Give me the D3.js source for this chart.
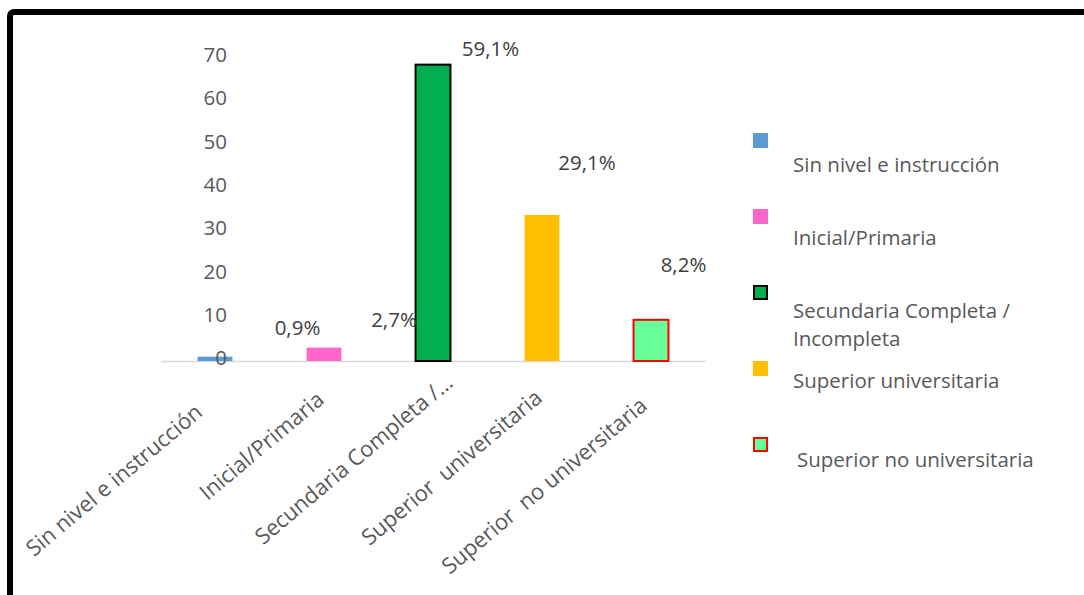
<!DOCTYPE html>
<html>
<head>
<meta charset="utf-8">
<script src="https://cdn.jsdelivr.net/npm/d3@7"></script>
<style>
  html, body { margin: 0; padding: 0; background: #fff; }
  svg { display: block; }
  text { font-family: "Open Sans", sans-serif; }
</style>
</head>
<body>
<svg id="chart" width="1084" height="595"></svg>
<script>
// ---- data ----
const categories = [
  "Sin nivel e instrucción",
  "Inicial/Primaria",
  "Secundaria Completa / Incompleta",
  "Superior universitaria",
  "Superior no universitaria"
];
// labels printed under the bars (long one is cut short)
const tickLabels = [
  "Sin nivel e instrucción",
  "Inicial/Primaria",
  "Secundaria Completa /…",
  "Superior  universitaria",
  "Superior  no universitaria"
];
// legend entries, one array per wrapped line
const legendLabels = [
  ["Sin nivel e instrucción"],
  ["Inicial/Primaria"],
  ["Secundaria Completa /", "Incompleta"],
  ["Superior universitaria"],
  [" Superior no universitaria"]
];
const values = [1.0, 3.1, 68.4, 33.7, 9.5];
const yTickValues = [0, 10, 20, 30, 40, 50, 60, 70];

// ---- styling ----
const fills   = ["#5B9BD5", "#FF66CC", "#00B050", "#FFC000", "#66FF99"];
const strokes = [null, null, "#000000", null, "#FF0000"];
const textGray = "#595959";
const labelGray = "#404040";

const svg = d3.select("#chart");

// outer frame
svg.append("rect")
  .attr("x", 10).attr("y", 12)
  .attr("width", 1100).attr("height", 620)
  .attr("rx", 4)
  .attr("fill", "none")
  .attr("stroke", "#000")
  .attr("stroke-width", 6);

// ---- scales ----
const x = d3.scaleBand()
  .domain(categories)
  .range([160.5, 705.5])
  .paddingInner(0.68)
  .paddingOuter(0.34);

const y = d3.scaleLinear()
  .domain([0, 70])
  .range([361, 57.7]);

// ---- category axis (baseline + rotated labels) ----
const xAxis = svg.append("g")
  .attr("transform", `translate(0,${y(0)})`)
  .call(d3.axisBottom(x).tickSize(0).tickSizeOuter(0));

xAxis.select(".domain")
  .attr("stroke", "#D9D9D9")
  .attr("stroke-width", 1.5);

// labels are tilted 40°; each end point is moved along the text direction
// (labelShift) and pushed away from the axis (labelDrop)
const angle = 40;
const rad = angle * Math.PI / 180;
const dir = [Math.cos(rad), -Math.sin(rad)];
const perp = [Math.sin(rad), Math.cos(rad)];
const labelShift = [-43, -25, 1, -24, -32];
const labelDrop = [34, 32.5, 32, 31, 34.5];

xAxis.selectAll(".tick text")
  .text((d, i) => tickLabels[i])
  .attr("xml:space", "preserve")
  .style("white-space", "pre")
  .attr("x", 0).attr("y", 0).attr("dy", 0)
  .attr("fill", textGray)
  .attr("font-size", "22px")
  .attr("font-family", "'Open Sans', sans-serif")
  .attr("text-anchor", "end")
  .attr("transform", (d, i) => {
    const a = labelShift[i], b = labelDrop[i];
    const px = a * dir[0] + b * perp[0];
    const py = a * dir[1] + b * perp[1];
    return `translate(${px},${py}) rotate(${-angle})`;
  });

// ---- bars ----
svg.append("g")
  .selectAll("rect")
  .data(categories)
  .join("rect")
  .attr("x", d => x(d))
  .attr("width", x.bandwidth())
  .attr("y", (d, i) => y(values[i]))
  .attr("height", (d, i) => y(0) - y(values[i]))
  .attr("fill", (d, i) => fills[i])
  .attr("stroke", (d, i) => strokes[i] || "none")
  .attr("stroke-width", 2);

// ---- value axis ----
const yAxis = svg.append("g")
  .attr("transform", "translate(227,0)")
  .call(d3.axisLeft(y).tickValues(yTickValues).tickSize(0).tickPadding(0));

yAxis.select(".domain").remove();
yAxis.selectAll(".tick text")
  .attr("fill", textGray)
  .attr("font-size", "20.5px")
  .attr("font-family", "'Open Sans', sans-serif")
  .attr("dy", "0.19em");

// ---- share labels (each bar as a share of the total) ----
const total = d3.sum(values);
const esLocale = d3.formatLocale({ decimal: ",", thousands: ".", grouping: [3], currency: ["", "€"] });
const fmtPct = esLocale.format(".1f");

const labelX = d3.scaleLinear().domain([0, categories.length - 1]).range([297.5, 683.5]);
const labelLevel = [7.6, 9.5, 72, 45.7, 22.2];

svg.append("g")
  .selectAll("text")
  .data(categories)
  .join("text")
  .attr("x", (d, i) => labelX(i))
  .attr("y", (d, i) => y(labelLevel[i]))
  .attr("dy", "0.35em")
  .attr("text-anchor", "middle")
  .attr("font-size", "20.5px")
  .attr("fill", labelGray)
  .text((d, i) => fmtPct(values[i] / total * 100) + "%");

// ---- legend ----
const legendTop = d3.scaleLinear().domain([0, 1]).range([133, 209]);
const legendTextOffset = [39, 36, 33, 27, 30];
const legendTextDx = [0, 0, 0, 0, 4];

const legend = svg.append("g");
const items = legend.selectAll("g")
  .data(categories)
  .join("g")
  .attr("transform", (d, i) => `translate(0,${legendTop(i)})`);

items.append("rect")
  .attr("x", (d, i) => strokes[i] ? 754 : 753)
  .attr("y", (d, i) => strokes[i] ? 1 : 0)
  .attr("width", (d, i) => strokes[i] ? 13 : 15)
  .attr("height", (d, i) => strokes[i] ? 13 : 15)
  .attr("fill", (d, i) => fills[i])
  .attr("stroke", (d, i) => strokes[i] || "none")
  .attr("stroke-width", 2);

items.append("text")
  .attr("xml:space", "preserve")
  .style("white-space", "pre")
  .attr("x", (d, i) => 793 + legendTextDx[i])
  .attr("y", (d, i) => legendTextOffset[i])
  .attr("font-size", "20.5px")
  .attr("fill", textGray)
  .selectAll("tspan")
  .data((d, i) => legendLabels[i])
  .join("tspan")
  .attr("x", function () { return this.parentNode.getAttribute("x"); })
  .attr("dy", (d, j) => j === 0 ? 0 : 28)
  .text(d => d.trim());
</script>
</body>
</html>
